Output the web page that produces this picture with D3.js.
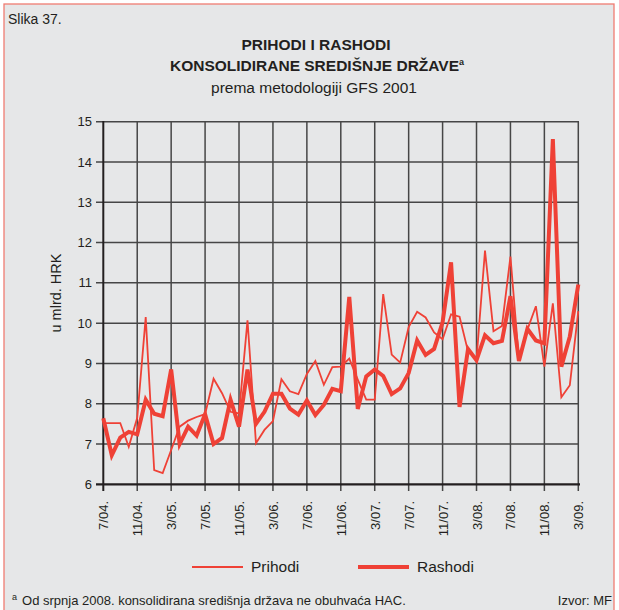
<!DOCTYPE html>
<html>
<head>
<meta charset="utf-8">
<script src="https://cdn.jsdelivr.net/npm/d3@7"></script>
<style>
  body { margin: 0; background: #ffffff; }
  svg { display: block; }
  text { font-family: "Liberation Sans", Arial, Helvetica, sans-serif; fill: #231f20; }
</style>
</head>
<body>
<svg id="chart" width="619" height="610"></svg>
<script>
// Monthly periods, July 2004 – March 2009
const months = [
  "7/04","8/04","9/04","10/04","11/04","12/04",
  "1/05","2/05","3/05","4/05","5/05","6/05","7/05","8/05","9/05","10/05","11/05","12/05",
  "1/06","2/06","3/06","4/06","5/06","6/06","7/06","8/06","9/06","10/06","11/06","12/06",
  "1/07","2/07","3/07","4/07","5/07","6/07","7/07","8/07","9/07","10/07","11/07","12/07",
  "1/08","2/08","3/08","4/08","5/08","6/08","7/08","8/08","9/08","10/08","11/08","12/08",
  "1/09","2/09","3/09"
];

// Labelled months on the horizontal axis
const tickMonths = ["7/04","11/04","3/05","7/05","11/05","3/06","7/06","11/06",
                    "3/07","7/07","11/07","3/08","7/08","11/08","3/09"];

// Revenue (billion HRK)
const prihodi = [
  7.52, 7.52, 7.52, 6.93, 7.65, 10.15, 6.35, 6.28, 6.85, 7.43,
  7.58, 7.67, 7.74, 8.62, 8.26, 7.80, 7.76, 10.07, 7.02, 7.35,
  7.57, 8.61, 8.31, 8.24, 8.74, 9.06, 8.47, 8.91, 8.92, 9.12,
  8.60, 8.10, 8.10, 10.72, 9.22, 9.02, 9.90, 10.28, 10.14, 9.77,
  9.60, 10.22, 10.16, 9.30, 9.10, 11.80, 9.80, 9.93, 11.65, 9.10,
  9.84, 10.42, 8.92, 10.49, 8.16, 8.46, 10.30
];

// Expenditure (billion HRK)
const rashodi = [
  7.64, 6.72, 7.16, 7.30, 7.24, 8.10, 7.75, 7.69, 8.85, 7.00,
  7.43, 7.21, 7.74, 7.00, 7.15, 8.10, 7.43, 8.85, 7.50, 7.80,
  8.25, 8.25, 7.88, 7.73, 8.08, 7.72, 7.97, 8.37, 8.31, 10.65,
  7.87, 8.68, 8.85, 8.69, 8.24, 8.38, 8.76, 9.57, 9.21, 9.36,
  10.02, 11.51, 7.92, 9.36, 9.08, 9.70, 9.50, 9.56, 10.67, 9.06,
  9.86, 9.57, 9.50, 14.57, 8.92, 9.67, 10.96
];

const yTicks = [6, 7, 8, 9, 10, 11, 12, 13, 14, 15];

const red = "#ef4136";
const svg = d3.select("#chart");

// Panel background with thin frame
svg.append("rect").attr("x", 0).attr("y", 0).attr("width", 619).attr("height", 610).attr("fill", "#ffffff");
svg.append("rect")
  .attr("x", 4).attr("y", 4).attr("width", 610).attr("height", 612)
  .attr("fill", "#e6e7e8").attr("stroke", "#f07c72").attr("stroke-width", 1.3);

// Figure caption and titles
svg.append("text").attr("x", 8).attr("y", 24).attr("font-size", 14).text("Slika 37.");
svg.append("text").attr("x", 316).attr("y", 50).attr("text-anchor", "middle")
  .attr("font-size", 15.5).attr("font-weight", "bold").text("PRIHODI I RASHODI");
const t2 = svg.append("text").attr("x", 317).attr("y", 70.5).attr("text-anchor", "middle")
  .attr("font-size", 15.5).attr("font-weight", "bold");
t2.append("tspan").text("KONSOLIDIRANE SREDIŠNJE DRŽAVE");
t2.append("tspan").attr("font-size", 9).attr("dy", -6).text("a");
svg.append("text").attr("x", 314).attr("y", 92.5).attr("text-anchor", "middle")
  .attr("font-size", 15.5).text("prema metodologiji GFS 2001");

// Scales
const x = d3.scalePoint().domain(months).range([103.3, 578.3]);
const y = d3.scaleLinear().domain([6, 15]).range([484.3, 121.7]);

// Grid
const grid = svg.append("g").attr("stroke", "#464646").attr("stroke-width", 1.5);
grid.selectAll("line.h").data(yTicks.filter(v => v > 6)).join("line")
  .attr("x1", 96).attr("x2", 579).attr("y1", d => y(d)).attr("y2", d => y(d));
grid.selectAll("line.v").data(tickMonths.slice(1)).join("line")
  .attr("y1", y(15)).attr("y2", 491).attr("x1", d => x(d)).attr("x2", d => x(d));

// Axes lines
svg.append("line").attr("x1", 103.3).attr("x2", 103.3).attr("y1", y(15) - 0.7).attr("y2", 491)
  .attr("stroke", "#231f20").attr("stroke-width", 2);
svg.append("line").attr("x1", 96).attr("x2", 580).attr("y1", y(6)).attr("y2", y(6))
  .attr("stroke", "#231f20").attr("stroke-width", 2.2);

// Y tick labels
svg.selectAll("text.yl").data(yTicks).join("text")
  .attr("x", 92).attr("y", d => y(d)).attr("dy", "0.35em")
  .attr("text-anchor", "end").attr("font-size", 13).text(d => d);

// X tick labels, rotated
svg.selectAll("text.xl").data(tickMonths).join("text")
  .attr("transform", d => `translate(${x(d) + 5},501) rotate(-90)`)
  .attr("text-anchor", "end").attr("font-size", 13).text(d => d + ".");

// Y axis title
svg.append("text").attr("transform", "translate(61,293) rotate(-90)")
  .attr("text-anchor", "middle").attr("font-size", 14.5).text("u mlrd. HRK");

// Series
const line = d3.line().x((d, i) => x(months[i])).y(d => y(d));
svg.append("path").datum(prihodi).attr("d", line)
  .attr("fill", "none").attr("stroke", red).attr("stroke-width", 1.8).attr("stroke-linejoin", "miter");
svg.append("path").datum(rashodi).attr("d", line)
  .attr("fill", "none").attr("stroke", red).attr("stroke-width", 4).attr("stroke-linejoin", "miter");

// Legend
const legend = [
  { name: "Prihodi", w: 1.8, x0: 192, x1: 243, tx: 251 },
  { name: "Rashodi", w: 4, x0: 358, x1: 409, tx: 417 }
];
legend.forEach(l => {
  svg.append("line").attr("x1", l.x0).attr("x2", l.x1).attr("y1", 567).attr("y2", 567)
    .attr("stroke", red).attr("stroke-width", l.w);
  svg.append("text").attr("x", l.tx).attr("y", 567).attr("dy", "0.35em")
    .attr("font-size", 15.5).text(l.name);
});

// Footnote and source
const fn = svg.append("text").attr("x", 12).attr("y", 605).attr("font-size", 13);
fn.append("tspan").attr("font-size", 9).attr("dy", -5).text("a");
fn.append("tspan").attr("dy", 5).attr("dx", 5).text("Od srpnja 2008. konsolidirana središnja država ne obuhvaća HAC.");
svg.append("text").attr("x", 612).attr("y", 605).attr("text-anchor", "end")
  .attr("font-size", 13).text("Izvor: MF");
</script>
</body>
</html>
